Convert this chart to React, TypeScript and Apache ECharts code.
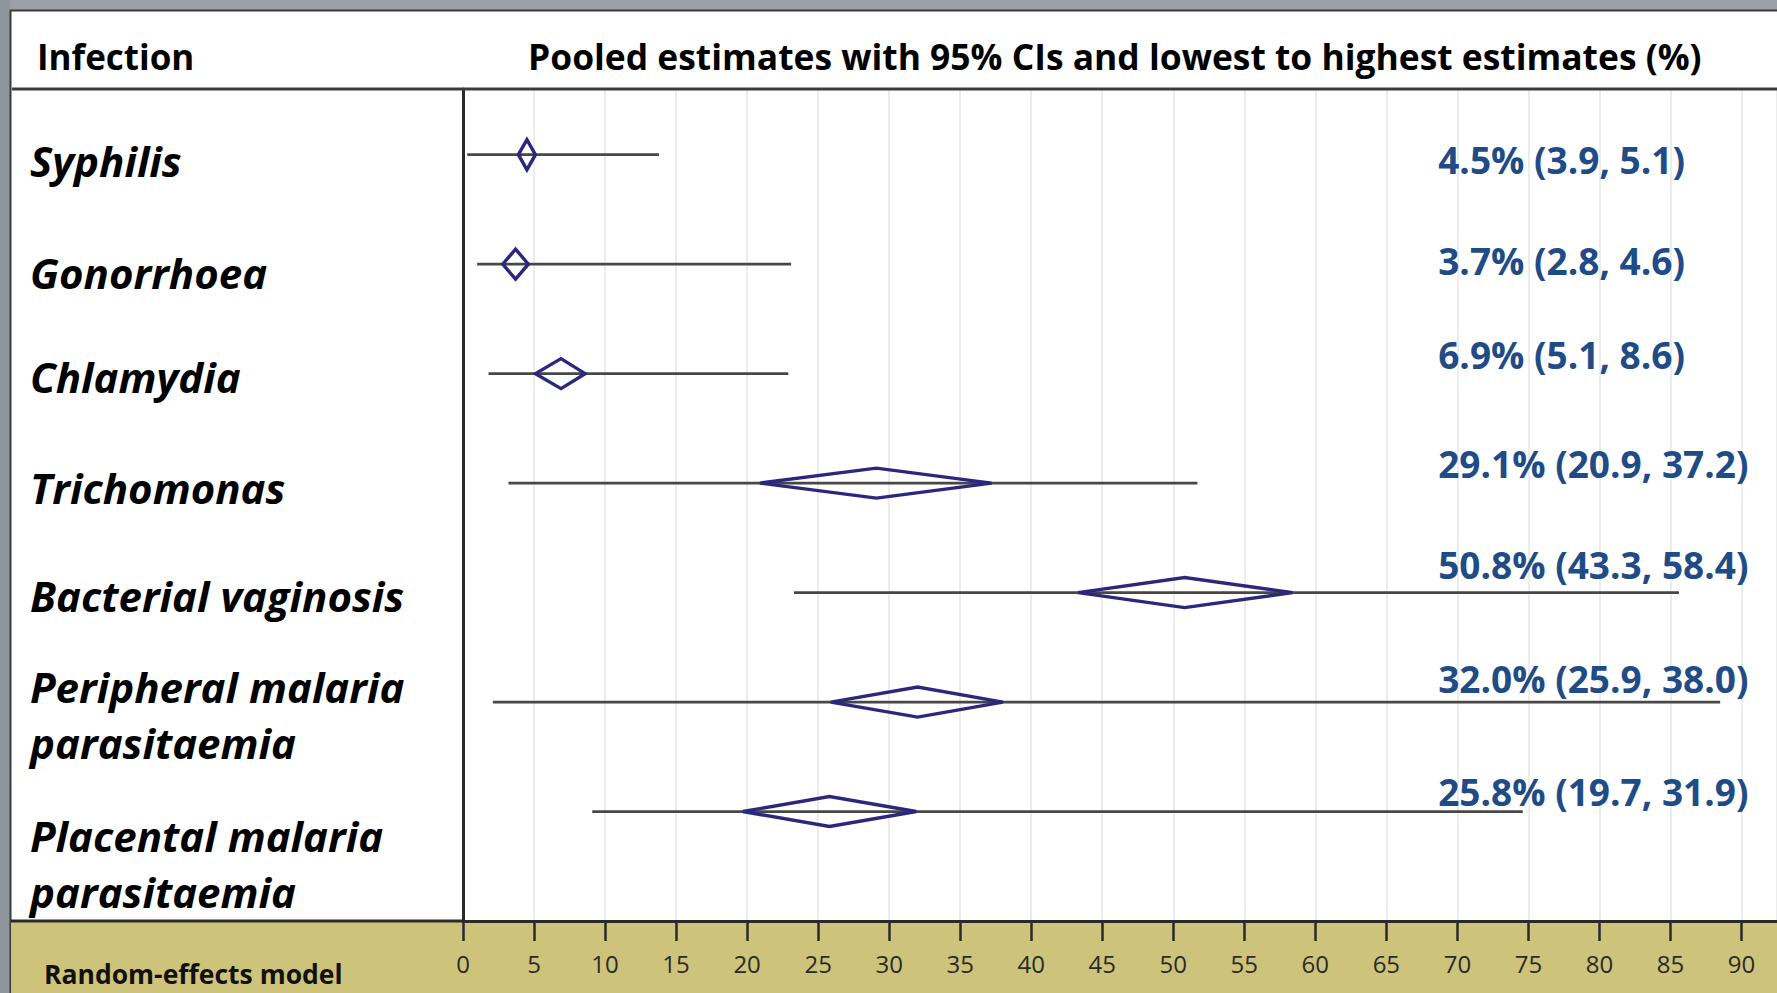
import React, { useEffect, useRef } from "react";
import * as echarts from "echarts";

// ---------- data ----------
const infections = [
  "Syphilis",
  "Gonorrhoea",
  "Chlamydia",
  "Trichomonas",
  "Bacterial vaginosis",
  "Peripheral malaria\nparasitaemia",
  "Placental malaria\nparasitaemia",
];
const pooled = [4.5, 3.7, 6.9, 29.1, 50.8, 32.0, 25.8];
const ciLower = [3.9, 2.8, 5.1, 20.9, 43.3, 25.9, 19.7];
const ciUpper = [5.1, 4.6, 8.6, 37.2, 58.4, 38.0, 31.9];
const lowestEstimate = [0.3, 1.0, 1.8, 3.2, 23.3, 2.1, 9.1];
const highestEstimate = [13.8, 23.1, 22.9, 51.7, 85.6, 88.5, 74.6];
const xTickStep = 5;
const xMaxLabel = 90;

const headerLeft = "Infection";
const headerRight = "Pooled estimates with 95% CIs and lowest to highest estimates (%)";
const footerText = "Random-effects model";

// ---------- layout (not data) ----------
const W = 1777;
const H = 993;
const nameDy = [6, 8, 3, 4, 3, 12, 52];
const valueLabelDy = [5, -4, -19, -20, -28, -24, -20];
const valueLabelAnchor = 68.65;
const FONT = "'Open Sans', 'Noto Sans', sans-serif";

export default function App() {
  const ref = useRef<HTMLDivElement>(null);

  useEffect(() => {
    if (!ref.current) return;
    const chart = echarts.init(ref.current, undefined, { renderer: "svg" });

    const intervalData = infections.map((_, i) => [
      i,
      lowestEstimate[i],
      highestEstimate[i],
      ciLower[i],
      pooled[i],
      ciUpper[i],
    ]);
    const labelData = infections.map((_, i) => [valueLabelAnchor, i]);

    const option: any = {
      animation: false,
      backgroundColor: "#ffffff",
      grid: { left: 463, right: 0, top: 89, bottom: 72, containLabel: false },
      xAxis: {
        type: "value",
        min: 0,
        max: 92.5,
        interval: xTickStep,
        z: 1,
        axisLine: { show: true, onZero: false, lineStyle: { color: "#2a2a2a", width: 3 } },
        axisTick: { show: true, length: 20, lineStyle: { color: "#2a2a2a", width: 2.5 } },
        axisLabel: {
          show: true,
          margin: 30,
          showMaxLabel: false,
          color: "#2a2a2a",
          fontFamily: FONT,
          fontSize: 24,
          formatter: (v: number) => (v <= xMaxLabel ? String(v) : ""),
        },
        splitLine: { show: true, lineStyle: { color: "#ececec", width: 2 } },
      },
      yAxis: {
        type: "value",
        inverse: true,
        min: -0.6,
        max: 7,
        z: 1,
        axisLine: { show: true, onZero: false, lineStyle: { color: "#2a2a2a", width: 3 } },
        axisTick: { show: false },
        axisLabel: { show: false },
        splitLine: { show: false },
      },
      graphic: {
        elements: [
          // outer grey frame
          { type: "rect", z: -10, shape: { x: 0, y: 0, width: W, height: 10 }, style: { fill: "#9ba1a7" } },
          { type: "rect", z: -10, shape: { x: 0, y: 0, width: 10, height: H }, style: { fill: "#8e959b" } },
          { type: "line", z: -9, shape: { x1: 10, y1: 10.5, x2: W, y2: 10.5 }, style: { stroke: "#3a3a3a", lineWidth: 2 } },
          { type: "line", z: -9, shape: { x1: 10.5, y1: 10, x2: 10.5, y2: H }, style: { stroke: "#3a3a3a", lineWidth: 2 } },
          // footer band
          { type: "rect", z: -5, shape: { x: 11, y: 921, width: W - 11, height: H - 921 }, style: { fill: "#cec37a" } },
          { type: "line", z: 20, shape: { x1: 11, y1: 921, x2: 463, y2: 921 }, style: { stroke: "#2a2a2a", lineWidth: 3 } },
          // header separator
          { type: "line", z: 20, shape: { x1: 12, y1: 89, x2: W, y2: 89 }, style: { stroke: "#3c3c3c", lineWidth: 3 } },
          {
            type: "text",
            z: 20,
            x: 37,
            y: 56,
            style: {
              text: headerLeft,
              fill: "#000",
              fontFamily: FONT,
              fontWeight: "bold",
              fontSize: 35,
              align: "left",
              verticalAlign: "middle",
              textAlign: "left",
              textVerticalAlign: "middle",
            },
          },
          {
            type: "text",
            z: 20,
            x: 528,
            y: 56,
            style: {
              text: headerRight,
              fill: "#000",
              fontFamily: FONT,
              fontWeight: "bold",
              fontSize: 35.4,
              align: "left",
              verticalAlign: "middle",
              textAlign: "left",
              textVerticalAlign: "middle",
            },
          },
          {
            type: "text",
            z: 20,
            x: 44,
            y: 974,
            style: {
              text: footerText,
              fill: "#111",
              fontFamily: FONT,
              fontWeight: "bold",
              fontSize: 26.5,
              align: "left",
              verticalAlign: "middle",
              textAlign: "left",
              textVerticalAlign: "middle",
            },
          },
        ],
      },
      series: [
        {
          type: "custom",
          name: "intervals",
          clip: false,
          z: 5,
          encode: { x: [1, 2, 3, 4, 5], y: 0 },
          data: intervalData,
          renderItem: (params: any, api: any) => {
            const row = api.value(0);
            const lo = api.coord([api.value(1), row]);
            const hi = api.coord([api.value(2), row]);
            const cl = api.coord([api.value(3), row]);
            const est = api.coord([api.value(4), row]);
            const cu = api.coord([api.value(5), row]);
            const h = 15;
            return {
              type: "group",
              children: [
                {
                  type: "line",
                  shape: { x1: lo[0], y1: lo[1], x2: hi[0], y2: hi[1] },
                  style: { stroke: "#474747", lineWidth: 2.8 },
                },
                {
                  type: "polygon",
                  shape: {
                    points: [
                      [cl[0], cl[1]],
                      [est[0], est[1] - h],
                      [cu[0], cu[1]],
                      [est[0], est[1] + h],
                    ],
                  },
                  style: { stroke: "#2a287c", fill: "none", lineWidth: 3.4, lineJoin: "miter" },
                },
              ],
            };
          },
        },
        {
          type: "custom",
          name: "labels",
          clip: false,
          z: 6,
          encode: { x: 0, y: 1 },
          data: labelData,
          renderItem: (params: any, api: any) => {
            const i = params.dataIndex;
            const p = api.coord([api.value(0), api.value(1)]);
            const txt = `${pooled[i].toFixed(1)}% (${ciLower[i].toFixed(1)}, ${ciUpper[i].toFixed(1)})`;
            return {
              type: "group",
              children: [
                {
                  type: "text",
                  x: p[0],
                  y: p[1] + valueLabelDy[i],
                  style: {
                    text: txt,
                    fill: "#1f4c86",
                    fontFamily: FONT,
                    fontWeight: "bold",
                    fontSize: 37,
                    align: "left",
                    verticalAlign: "middle",
                    textAlign: "left",
                    textVerticalAlign: "middle",
                  },
                },
                {
                  type: "text",
                  x: 30,
                  y: p[1] + nameDy[i],
                  style: {
                    text: infections[i],
                    fill: "#000",
                    fontFamily: FONT,
                    fontWeight: "bold",
                    fontStyle: "italic",
                    fontSize: 42,
                    lineHeight: 56,
                    align: "left",
                    verticalAlign: "middle",
                    textAlign: "left",
                    textVerticalAlign: "middle",
                  },
                },
              ],
            };
          },
        },
      ],
    };

    chart.setOption(option);
    return () => chart.dispose();
  }, []);

  return (
    <div
      ref={ref}
      style={{ position: "absolute", left: 0, top: 0, width: W, height: H }}
    />
  );
}
